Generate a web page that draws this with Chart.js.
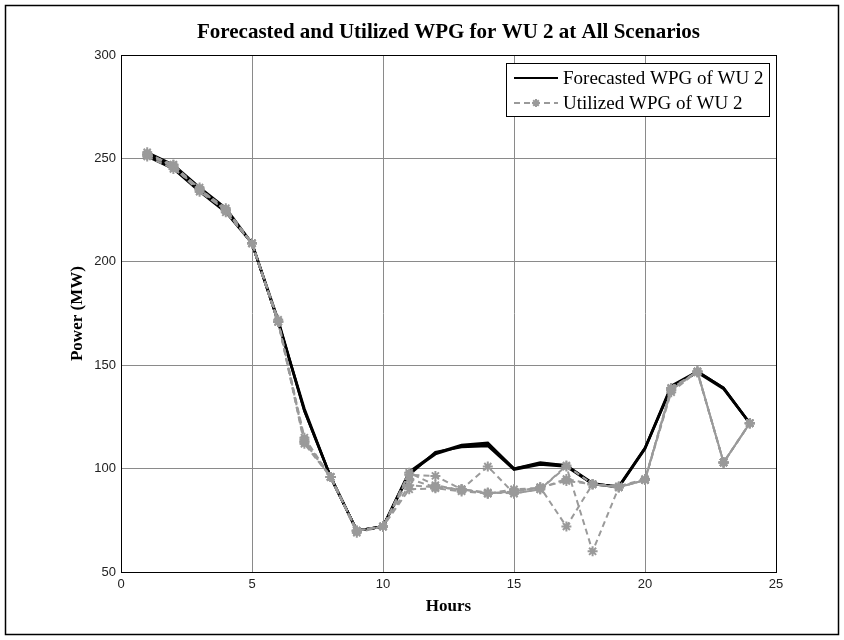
<!DOCTYPE html>
<html>
<head>
<meta charset="utf-8">
<title>Forecasted and Utilized WPG for WU 2</title>
<script src="https://cdn.jsdelivr.net/npm/chart.js@4.4.1/dist/chart.umd.min.js"></script>
<style>
  body { margin: 0; background: #fff; }
  #wrap { width: 844px; height: 640px; }
</style>
</head>
<body>
<div id="wrap"><canvas id="wpgChart" width="844" height="640"></canvas></div>
<script>
// Data

const hours = [1, 2, 3, 4, 5, 6, 7, 8, 9, 10, 11, 12, 13, 14, 15, 16, 17, 18, 19, 20, 21, 22, 23, 24];

const forecastA = [252, 246, 235, 225, 209, 171, 128, 96, 70, 72, 98, 107, 111, 112, 100, 102.5, 101.5, 93, 91, 110, 139, 147, 139, 122];
const forecastB = [251, 245, 234, 224, 209, 171, 129, 96, 70, 72, 97, 108, 110.5, 111, 99.5, 102, 101, 92.5, 91, 109.5, 139.5, 146.5, 138.5, 122];
const forecastC = [253, 247, 236, 226, 209, 172, 128, 96, 70, 72, 98.5, 107.5, 111.5, 112.5, 100, 103, 101.5, 92.5, 91.5, 110, 140, 147, 139, 122];

const utilizedA = [252, 247, 235, 226, 209, 171, 114, 96, 69, 72, 97, 96.5, 90, 101, 88, 90, 101, 60, 91, 94.5, 138, 147, 103, 122];
const utilizedB = [253, 246, 234, 225, 209, 171, 112, 96, 70, 72, 95, 91, 90, 88, 89, 91, 72, 92.5, 91, 94.5, 139, 147, 103, 122];
const utilizedC = [251, 245, 236, 224, 209, 172, 113, 96, 70, 72, 90, 90.5, 89, 88, 90, 90.5, 95, 92.5, 91, 94.5, 137, 147, 103, 122];
const utilizedD = [252, 246, 235, 225, 209, 171, 115, 96, 70, 72, 92, 91, 90, 88.5, 88, 90, 101.5, 92.5, 91.5, 95, 138, 147, 103, 122];
const utilizedE = [252, 247, 235, 225, 209, 171, 113, 96, 70, 72, 98, 92, 89.5, 88, 89, 91, 94, 92.5, 91, 94.5, 139, 146.5, 103, 122];

const xTicks = [0, 5, 10, 15, 20, 25];
const yTicks = [50, 100, 150, 200, 250, 300];

const forecastLabel = "Forecasted WPG of WU 2";
const utilizedLabel = "Utilized WPG of WU 2";

const GRAY = "#9a9a9a";
const SERIF = "'Liberation Serif', 'Times New Roman', serif";
const SANS = "'Liberation Sans', Arial, sans-serif";

function toPoints(values) {
  return values.map((v, i) => ({ x: hours[i], y: v }));
}

const datasets = [];

[forecastA, forecastB, forecastC].forEach((values) => {
  datasets.push({
    label: forecastLabel,
    data: toPoints(values),
    borderColor: "#000",
    borderWidth: 2.5,
    pointRadius: 0,
    tension: 0,
    order: 2,
  });
});

[utilizedA, utilizedB, utilizedC, utilizedD, utilizedE].forEach((values) => {
  datasets.push({
    label: utilizedLabel,
    data: toPoints(values),
    borderColor: GRAY,
    borderWidth: 2,
    borderDash: [6, 4],
    pointStyle: "star",
    pointRadius: 5,
    pointBorderWidth: 2,
    pointBorderColor: GRAY,
    pointBackgroundColor: GRAY,
    tension: 0,
    order: 1,
  });
});

// Outer frame + plot box
const framePlugin = {
  id: "framePlugin",
  beforeDraw(chart) {
    const ctx = chart.ctx;
    ctx.save();
    ctx.fillStyle = "#fff";
    ctx.fillRect(0, 0, chart.width, chart.height);
    ctx.strokeStyle = "#000";
    ctx.lineWidth = 1.5;
    ctx.strokeRect(5.5, 5.5, chart.width - 11, chart.height - 11);
    ctx.restore();
  },
  afterDraw(chart) {
    const ctx = chart.ctx;
    const a = chart.chartArea;
    ctx.save();
    ctx.strokeStyle = "#000";
    ctx.lineWidth = 1;
    ctx.strokeRect(Math.round(a.left) + 0.5, Math.round(a.top) + 0.5, Math.round(a.right - a.left), Math.round(a.bottom - a.top));
    ctx.restore();
  },
};

// Boxed legend in the top right of the plot
const boxLegend = {
  id: "boxLegend",
  afterDraw(chart) {
    const ctx = chart.ctx;
    const a = chart.chartArea;
    const w = 263;
    const h = 53;
    const x = Math.round(a.right - 7 - w);
    const y = Math.round(a.top + 8);
    ctx.save();
    ctx.fillStyle = "#fff";
    ctx.fillRect(x, y, w, h);
    ctx.strokeStyle = "#000";
    ctx.lineWidth = 1;
    ctx.strokeRect(x + 0.5, y + 0.5, w, h);

    const r1 = y + 15;
    const r2 = y + 40;

    ctx.beginPath();
    ctx.moveTo(x + 8, r1);
    ctx.lineTo(x + 52, r1);
    ctx.lineWidth = 2;
    ctx.strokeStyle = "#000";
    ctx.stroke();

    ctx.beginPath();
    ctx.setLineDash([6, 4]);
    ctx.moveTo(x + 8, r2);
    ctx.lineTo(x + 52, r2);
    ctx.strokeStyle = GRAY;
    ctx.stroke();
    ctx.setLineDash([]);
    Chart.helpers.drawPoint(ctx, { pointStyle: "star", radius: 4, borderWidth: 2, rotation: 0 }, x + 30, r2);

    ctx.fillStyle = "#000";
    ctx.font = "19px " + SERIF;
    ctx.textBaseline = "middle";
    ctx.textAlign = "left";
    ctx.fillText(forecastLabel, x + 57, r1 + 1);
    ctx.fillText(utilizedLabel, x + 57, r2 + 1);
    ctx.restore();
  },
};

const ctx = document.getElementById("wpgChart");

const wpgChart = new Chart(ctx, {
  type: "line",
  data: { datasets },
  options: {
    responsive: false,
    animation: false,
    layout: {
      padding: { left: 0, right: 68, top: 0, bottom: 0 },
    },
    plugins: {
      legend: { display: false },
      tooltip: { enabled: false },
      title: {
        display: true,
        text: "Forecasted and Utilized WPG for WU 2 at All Scenarios",
        fullSize: false,
        color: "#000",
        font: { family: SERIF, size: 21, weight: "bold" },
        padding: { top: 20, bottom: 10 },
      },
    },
    scales: {
      x: {
        type: "linear",
        min: xTicks[0],
        max: xTicks[xTicks.length - 1],
        afterBuildTicks: (scale) => {
          scale.ticks = xTicks.map((v) => ({ value: v }));
        },
        afterFit: (scale) => {
          scale.height = 68;
        },
        ticks: {
          color: "#222",
          font: { family: SANS, size: 13 },
          padding: 5,
          maxRotation: 0,
        },
        grid: { color: "#8a8a8a", drawTicks: false },
        border: { color: "#000", width: 1 },
        title: {
          display: true,
          text: "Hours",
          color: "#000",
          font: { family: SERIF, size: 17, weight: "bold" },
          padding: { top: 0, bottom: 23 },
        },
      },
      y: {
        type: "linear",
        min: yTicks[0],
        max: yTicks[yTicks.length - 1],
        afterBuildTicks: (scale) => {
          scale.ticks = yTicks.map((v) => ({ value: v }));
        },
        afterFit: (scale) => {
          scale.width = 121;
        },
        ticks: {
          color: "#222",
          font: { family: SANS, size: 13 },
          padding: 5,
        },
        grid: { color: "#8a8a8a", drawTicks: false },
        border: { color: "#000", width: 1 },
        title: {
          display: true,
          text: "Power (MW)",
          color: "#000",
          font: { family: SERIF, size: 17, weight: "bold" },
          padding: { top: 67, bottom: 0 },
        },
      },
    },
  },
  plugins: [framePlugin, boxLegend],
});
</script>
</body>
</html>
